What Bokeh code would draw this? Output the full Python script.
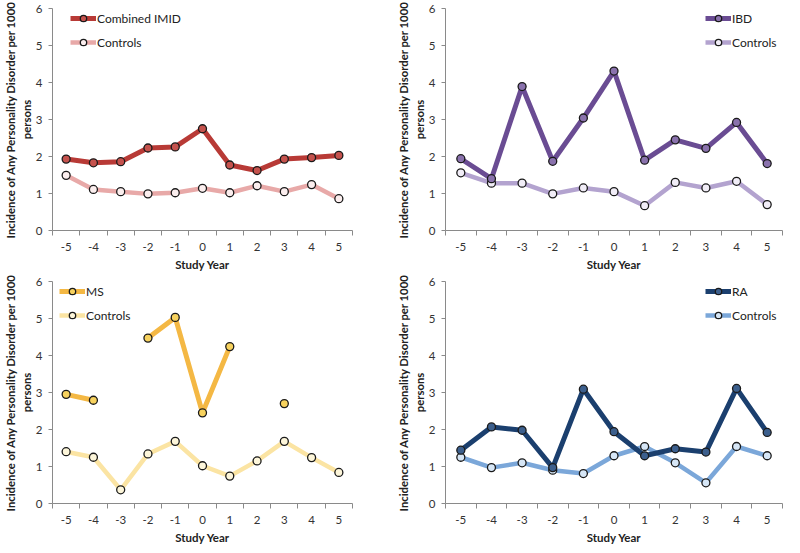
from bokeh.plotting import figure
from bokeh.models import FixedTicker, Legend, LegendItem
from bokeh.layouts import column, row
from bokeh.embed import file_html
from bokeh.resources import INLINE

nan = float("nan")

years = [-5, -4, -3, -2, -1, 0, 1, 2, 3, 4, 5]
year_labels = {y: str(y) for y in years}

imid = [1.93, 1.83, 1.86, 2.23, 2.26, 2.75, 1.77, 1.62, 1.93, 1.97, 2.03]
imid_ctrl = [1.49, 1.11, 1.05, 0.99, 1.02, 1.14, 1.02, 1.21, 1.05, 1.24, 0.86]

ibd = [1.94, 1.40, 3.89, 1.87, 3.04, 4.31, 1.90, 2.45, 2.22, 2.92, 1.81]
ibd_ctrl = [1.56, 1.28, 1.28, 0.99, 1.15, 1.05, 0.67, 1.30, 1.15, 1.33, 0.70]

ms = [2.95, 2.79, nan, 4.47, 5.03, 2.45, 4.24, nan, 2.70, nan, nan]
ms_ctrl = [1.40, 1.25, 0.37, 1.34, 1.68, 1.02, 0.74, 1.15, 1.68, 1.24, 0.84]

ra = [1.44, 2.07, 1.98, 0.97, 3.09, 1.94, 1.29, 1.48, 1.39, 3.11, 1.92]
ra_ctrl = [1.25, 0.97, 1.10, 0.90, 0.81, 1.29, 1.54, 1.10, 0.56, 1.54, 1.29]

FONT = "Lato"
YLABEL = "Incidence of Any Personality Disorder per 1000\npersons"


def panel(main, ctrl, name, c_main, c_main_fill, c_ctrl, c_ctrl_fill,
          left, fw, right, top, fh, bottom, leg_x, leg_top):
    p = figure(frame_width=fw, frame_height=fh, output_backend="svg",
               toolbar_location=None, x_range=(-5.5, 5.5), y_range=(0, 6),
               min_border_left=left, min_border_right=right,
               min_border_top=top, min_border_bottom=bottom)
    p.outline_line_color = None
    p.grid.grid_line_color = None
    p.background_fill_color = "white"

    r1 = p.line(years, main, line_color=c_main, line_width=5)
    s1 = p.scatter(years, main, size=8, fill_color=c_main_fill,
                   line_color="#1a1a1a", line_width=1.3)
    r2 = p.line(years, ctrl, line_color=c_ctrl, line_width=4.5)
    s2 = p.scatter(years, ctrl, size=8, fill_color=c_ctrl_fill,
                   line_color="#1a1a1a", line_width=1.3)
    p.renderers = [r2, s2, r1, s1]

    xa = p.xaxis[0]
    xa.ticker = FixedTicker(ticks=years, minor_ticks=[y + 0.5 for y in [-6] + years])
    xa.major_label_overrides = year_labels
    xa.major_tick_out = 0
    xa.major_tick_in = 0
    xa.minor_tick_out = 5
    xa.minor_tick_in = 0
    xa.minor_tick_line_color = "#8a8a8a"
    xa.axis_line_color = "#8a8a8a"
    xa.major_label_text_font = FONT
    xa.major_label_text_font_size = "11.5px"
    xa.major_label_text_color = "#333333"
    xa.major_label_standoff = 7
    xa.axis_label = "Study Year"
    xa.axis_label_text_font = FONT
    xa.axis_label_text_font_style = "bold"
    xa.axis_label_text_font_size = "11.5px"
    xa.axis_label_text_color = "#222222"
    xa.axis_label_standoff = 4

    ya = p.yaxis[0]
    ya.ticker = FixedTicker(ticks=[0, 1, 2, 3, 4, 5, 6], minor_ticks=[])
    ya.major_tick_out = 4
    ya.major_tick_in = 0
    ya.major_tick_line_color = "#8a8a8a"
    ya.axis_line_color = "#8a8a8a"
    ya.major_label_text_font = FONT
    ya.major_label_text_font_size = "11.5px"
    ya.major_label_text_color = "#333333"
    ya.major_label_standoff = 6
    ya.axis_label = YLABEL
    ya.axis_label_text_font = FONT
    ya.axis_label_text_font_style = "bold"
    ya.axis_label_text_font_size = "11.3px"
    ya.axis_label_text_color = "#222222"
    ya.axis_label_standoff = 0
    ya.axis_label_text_line_height = 1.25

    gh = 16
    sp = 8
    leg_h = 2 * gh + sp
    legend = Legend(items=[LegendItem(label=name, renderers=[r1, s1]),
                           LegendItem(label="Controls", renderers=[r2, s2])],
                    location=(leg_x, fh - leg_top - leg_h),
                    background_fill_alpha=0, border_line_color=None,
                    padding=0, margin=0, spacing=sp,
                    glyph_width=26, glyph_height=gh, label_height=gh,
                    label_standoff=1,
                    label_text_font=FONT, label_text_font_size="12px",
                    label_text_color="#222222")
    p.add_layout(legend)
    return p


p1 = panel(imid, imid_ctrl, "Combined IMID", "#b83a36", "#c5524d", "#e8a9a8", "#fbeeee",
           52, 300, 40, 8, 222, 38, 18, 2)
p2 = panel(ibd, ibd_ctrl, "IBD", "#6a4c93", "#8a72ad", "#b3a3cf", "#f1edf7",
           53, 337, 2, 8, 222, 38, 260, 2)
p3 = panel(ms, ms_ctrl, "MS", "#f4b844", "#f7d25e", "#fbe4a3", "#fdf6da",
           52, 300, 40, 8, 222, 38, 7, 2)
p4 = panel(ra, ra_ctrl, "RA", "#1b3f6e", "#3c5f8d", "#7ba7d9", "#d6e6f6",
           53, 337, 2, 8, 222, 38, 260, 2)

layout = column(row(p1, p2), row(p3, p4))
open("out.html", "w").write(file_html(layout, INLINE))
